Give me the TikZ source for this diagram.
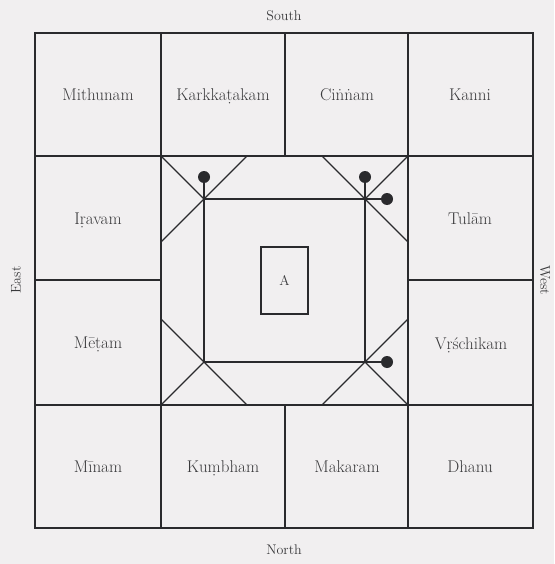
\documentclass[tikz,border=0pt]{standalone}
\usepackage{fontspec}
\definecolor{bg}{RGB}{241,239,240}
\definecolor{ink}{RGB}{42,42,45}
\definecolor{txt}{RGB}{58,58,60}
\begin{document}
\begin{tikzpicture}[x=1pt,y=-1pt,
  lab/.style={font=\fontsize{17}{20}\selectfont, text=txt, inner sep=0pt, text height=1.5ex, text depth=0.25ex},
  dir/.style={font=\fontsize{14}{16}\selectfont, text=txt, inner sep=0pt, text height=1.5ex, text depth=0.25ex},
  outer/.style={line width=2pt, draw=ink},
  gridline/.style={line width=1.5pt, draw=ink},
  thinline/.style={line width=1.1pt, draw=ink},
  planet/.style={circle, fill=ink, inner sep=0pt, minimum size=12pt}]
\fill[bg] (0,0) rectangle (554,564);
\useasboundingbox (0,0) rectangle (554,564);
% outer grid
\draw[outer] (35,33) rectangle (533,528);
\draw[gridline] (161,33) -- (161,528);
\draw[gridline] (408,33) -- (408,528);
\draw[gridline] (285,33) -- (285,156);
\draw[gridline] (285,405) -- (285,528);
\draw[gridline] (35,156) -- (533,156);
\draw[gridline] (35,405) -- (533,405);
\draw[gridline] (35,280) -- (161,280);
\draw[gridline] (408,280) -- (533,280);
\draw[outer] (161,156) rectangle (408,405);
% inner square
\coordinate (i1) at (204,199);
\coordinate (i2) at (365,199);
\coordinate (i3) at (365,362);
\coordinate (i4) at (204,362);
\draw[thinline] (i1) rectangle (i3);
% corner diagonals
\draw[thinline] (161,156) -- (i1);
\draw[thinline] (408,156) -- (i2);
\draw[thinline] (408,405) -- (i3);
\draw[thinline] (161,405) -- (i4);
\draw[thinline] (247,156) -- (161,242);
\draw[thinline] (322,156) -- (408,242);
\draw[thinline] (322,405) -- (408,319);
\draw[thinline] (247,405) -- (161,319);
% planets
\node[planet] (p1) at (204,177) {};
\node[planet] (p2) at (365,177) {};
\node[planet] (p3) at (387,199) {};
\node[planet] (p4) at (387,362) {};
\draw[thinline] (p1) -- (i1);
\draw[thinline] (p2) -- (i2);
\draw[thinline] (p3) -- (i2);
\draw[thinline] (p4) -- (i3);
% centre box
\node[draw=ink, line width=1.1pt, minimum width=47pt, minimum height=67pt, inner sep=0pt,
  font=\fontsize{14}{16}\selectfont, text=txt] (A) at (284.5,280.5) {A};
% sign names
\node[lab] (mithunam) at (98,98) {Mithunam};
\node[lab] (karkkatakam) at (223,98) {Karkkaṭakam};
\node[lab] (cinnam) at (347,98) {Ciṅṅam};
\node[lab] (kanni) at (470,98) {Kanni};
\node[lab] (iravam) at (98,222) {Iṛavam};
\node[lab] (tulam) at (470,222) {Tulām};
\node[lab] (metam) at (98,346) {Mēṭam};
\node[lab] (vrscikam) at (471,347) {Vṛśchikam};
\node[lab] (minam) at (98,470) {Mīnam};
\node[lab] (kumbham) at (223,470) {Kuṃbham};
\node[lab] (makaram) at (347,470) {Makaram};
\node[lab] (dhanu) at (470,470) {Dhanu};
% directions
\node[dir] (south) at (284,18) {South};
\node[dir] (north) at (284,552) {North};
\node[dir, rotate=90] (east) at (18,280) {East};
\node[dir, rotate=-90] (west) at (543,280) {West};
\end{tikzpicture}
\end{document}
